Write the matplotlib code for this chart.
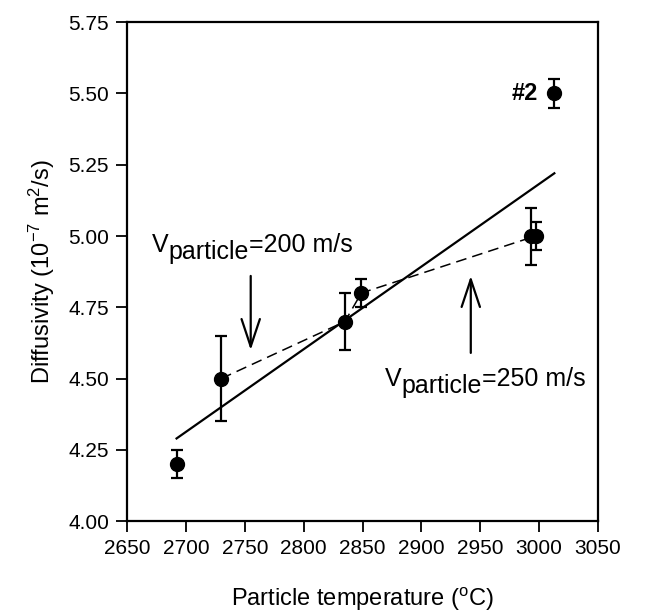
import matplotlib
matplotlib.use('Agg')

import matplotlib.pyplot as plt

# valores
temp = [2692, 2730, 2835, 2849, 2993, 2997, 3013]
difus = [4.20, 4.50, 4.70, 4.80, 5.00, 5.00, 5.50]
erro = [0.05, 0.15, 0.10, 0.05, 0.10, 0.05, 0.05]

# ajuste linear (linha cheia)
fit_x = [2692, 3013]
fit_y = [4.29, 5.22]

# linha tracejada entre pontos
dash_x = [2730, 2835, 2849, 2997]
dash_y = [4.50, 4.70, 4.80, 5.00]

xticks = [2650, 2700, 2750, 2800, 2850, 2900, 2950, 3000, 3050]
yticks = [4.00, 4.25, 4.50, 4.75, 5.00, 5.25, 5.50, 5.75]

plt.rcParams.update({
    "font.family": "Liberation Sans",
    "font.size": 15,
    "mathtext.fontset": "custom",
    "mathtext.rm": "Liberation Sans",
    "mathtext.it": "Liberation Sans",
})


def rotulo_v(ax, x, y, sub, resto, tam=18, desloc=5):
    """V com subscrito do mesmo tamanho, deslocado para baixo."""
    t1 = ax.text(x, y, "V", fontsize=tam, va="bottom")
    t2 = ax.annotate(sub, xy=(1, 0), xycoords=t1, xytext=(0, -desloc),
                     textcoords="offset points", fontsize=tam, va="bottom")
    ax.annotate(resto, xy=(1, 0), xycoords=t2, xytext=(0, desloc),
                textcoords="offset points", fontsize=tam, va="bottom")


fig = plt.figure(figsize=(6.52, 6.16), dpi=100)
ax = fig.add_axes([0.195, 0.154, 0.722, 0.81])

ax.plot(fit_x, fit_y, color="black", linewidth=1.6, zorder=2)
ax.plot(dash_x, dash_y, color="black", linewidth=1.1, dashes=(7, 4), zorder=2)
ax.errorbar(temp, difus, yerr=erro, fmt="o", color="black", markersize=10,
            capsize=4, elinewidth=1.6, capthick=1.6, zorder=3)

seta = dict(arrowstyle="->,head_length=0.9,head_width=0.3", color="black",
            lw=1.6, mutation_scale=22, shrinkA=0, shrinkB=0)
ax.annotate("", xy=(2755, 4.60), xytext=(2755, 4.86), arrowprops=seta)
ax.annotate("", xy=(2942, 4.86), xytext=(2942, 4.59), arrowprops=seta)

rotulo_v(ax, 2671, 4.925, "particle", "=200 m/s")
rotulo_v(ax, 2869, 4.455, "particle", "=250 m/s")
ax.annotate("#2", xy=(3013, 5.50), xytext=(-12, 0), textcoords="offset points",
            ha="right", va="center", fontsize=17, fontweight="bold")

ax.set_xlim(2650, 3050)
ax.set_ylim(4.00, 5.75)
ax.set_xticks(xticks)
ax.set_yticks(yticks)
ax.set_yticklabels([f"{v:.2f}" for v in yticks])
ax.tick_params(direction="out", length=8, width=1.3, labelsize=15, pad=5)
for s in ax.spines.values():
    s.set_linewidth(1.6)

ax.set_xlabel(r"Particle temperature ($^{\rm o}$C)", fontsize=17, labelpad=20)
ax.set_ylabel(r"Diffusivity (10$^{-7}$ m$^{2}$/s)", fontsize=17, labelpad=8)

fig.savefig("out.png", dpi=100, facecolor="white")
